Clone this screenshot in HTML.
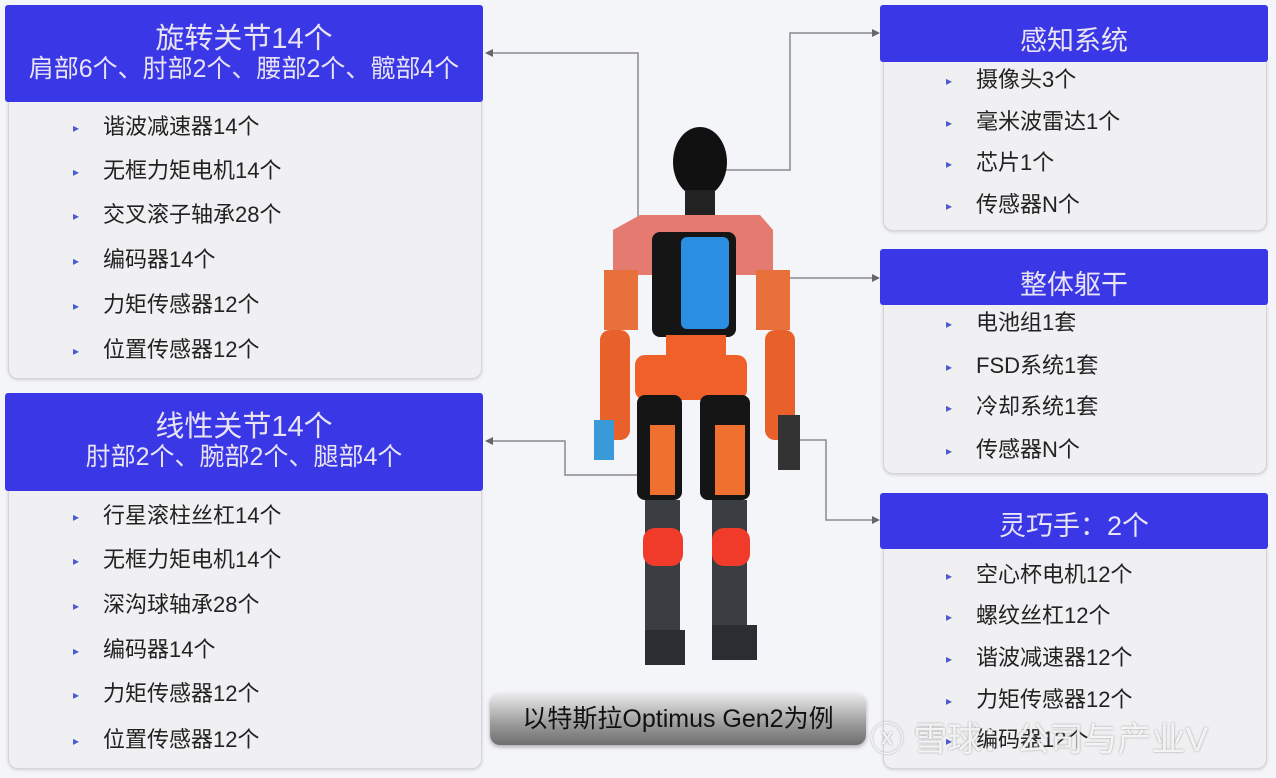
<!DOCTYPE html>
<html><head><meta charset="utf-8"><style>
body{margin:0;width:1276px;height:778px;background:#f4f5f8;position:relative;overflow:hidden;font-family:"Liberation Sans","Noto Sans CJK SC",sans-serif;}
.hd{position:absolute;background:#3a37e6;color:#e8e4f4;text-align:center;border-radius:3px;}
.bd{position:absolute;background:#f0f0f3;border:1px solid #d4d4da;border-radius:0 0 10px 10px;box-shadow:0 1px 3px rgba(0,0,0,.15);}
.it{position:absolute;font-size:22px;color:#222;white-space:nowrap;line-height:26px;}
.it:before{content:"▸";color:#4a5ad0;font-size:12px;position:absolute;left:-30px;top:1px;}
</style></head><body>
<div class="bd" style="left:8px;top:100px;width:472px;height:277px"></div>
<div class="hd" style="left:5px;top:5px;width:478px;height:97px"><div style="font-size:29px;margin-top:18px;line-height:32px">旋转关节14个</div><div style="font-size:25px;line-height:29px">肩部6个、肘部2个、腰部2个、髋部4个</div></div>
<div class="it" style="left:103px;top:114px">谐波减速器14个</div>
<div class="it" style="left:103px;top:158px">无框力矩电机14个</div>
<div class="it" style="left:103px;top:202px">交叉滚子轴承28个</div>
<div class="it" style="left:103px;top:247px">编码器14个</div>
<div class="it" style="left:103px;top:292px">力矩传感器12个</div>
<div class="it" style="left:103px;top:337px">位置传感器12个</div>

<div class="bd" style="left:8px;top:489px;width:472px;height:278px"></div>
<div class="hd" style="left:5px;top:393px;width:478px;height:98px"><div style="font-size:29px;margin-top:18px;line-height:32px">线性关节14个</div><div style="font-size:25px;line-height:29px">肘部2个、腕部2个、腿部4个</div></div>
<div class="it" style="left:103px;top:503px">行星滚柱丝杠14个</div>
<div class="it" style="left:103px;top:547px">无框力矩电机14个</div>
<div class="it" style="left:103px;top:592px">深沟球轴承28个</div>
<div class="it" style="left:103px;top:637px">编码器14个</div>
<div class="it" style="left:103px;top:681px">力矩传感器12个</div>
<div class="it" style="left:103px;top:727px">位置传感器12个</div>

<div class="bd" style="left:883px;top:60px;width:382px;height:169px"></div>
<div class="hd" style="left:880px;top:5px;width:388px;height:57px;font-size:27px;line-height:72px">感知系统</div>
<div class="it" style="left:976px;top:67px">摄像头3个</div>
<div class="it" style="left:976px;top:109px">毫米波雷达1个</div>
<div class="it" style="left:976px;top:150px">芯片1个</div>
<div class="it" style="left:976px;top:192px">传感器N个</div>

<div class="bd" style="left:883px;top:303px;width:382px;height:169px"></div>
<div class="hd" style="left:880px;top:249px;width:388px;height:56px;font-size:27px;line-height:72px">整体躯干</div>
<div class="it" style="left:976px;top:310px">电池组1套</div>
<div class="it" style="left:976px;top:353px">FSD系统1套</div>
<div class="it" style="left:976px;top:394px">冷却系统1套</div>
<div class="it" style="left:976px;top:437px">传感器N个</div>

<div class="bd" style="left:883px;top:547px;width:382px;height:220px"></div>
<div class="hd" style="left:880px;top:493px;width:388px;height:56px;font-size:27px;line-height:66px">灵巧手：2个</div>
<div class="it" style="left:976px;top:562px">空心杯电机12个</div>
<div class="it" style="left:976px;top:603px">螺纹丝杠12个</div>
<div class="it" style="left:976px;top:645px">谐波减速器12个</div>
<div class="it" style="left:976px;top:687px">力矩传感器12个</div>
<div class="it" style="left:976px;top:727px">编码器12个</div>

<div style="position:absolute;left:490px;top:693px;width:376px;height:52px;border-radius:10px;background:linear-gradient(#ececec,#9a9a9a 60%,#6e6e6e);box-shadow:0 2px 4px rgba(0,0,0,.3);font-size:25px;color:#111;text-align:center;line-height:52px">以特斯拉Optimus Gen2为例</div>
<div style="position:absolute;left:870px;top:712px;font-size:34px;color:rgba(255,255,255,.85);text-shadow:0 0 2px #999;white-space:nowrap">ⓧ 雪球：公司与产业V</div>

<svg width="1276" height="778" style="position:absolute;left:0;top:0">
<g fill="none" stroke="#8a8a90" stroke-width="1.5">
<polyline points="638,220 638,53 488,53"/>
<polyline points="703,170 790,170 790,33 876,33"/>
<polyline points="770,278 876,278"/>
<polyline points="637,475 565,475 565,441 488,441"/>
<polyline points="795,440 826,440 826,520 876,520"/>
</g>
<g fill="#666">
<polygon points="485,53 493,49 493,57"/><polygon points="880,33 872,29 872,37"/>
<polygon points="880,278 872,274 872,282"/><polygon points="485,441 493,437 493,445"/>
<polygon points="880,520 872,516 872,524"/>
</g>
<ellipse cx="700" cy="162" rx="27" ry="35" fill="#111"/>
<rect x="685" y="190" width="30" height="30" fill="#222"/>
<path d="M640 215 L760 215 L773 230 L773 275 L613 275 L613 230Z" fill="#e47a70"/>
<rect x="652" y="232" width="84" height="105" rx="8" fill="#151515"/>
<rect x="681" y="237" width="48" height="92" rx="6" fill="#2a8fe0"/>
<rect x="604" y="270" width="34" height="60" fill="#e8703a"/>
<rect x="600" y="330" width="30" height="110" rx="10" fill="#e8602a"/>
<rect x="594" y="420" width="20" height="40" fill="#3a9ad8"/>
<rect x="756" y="270" width="34" height="60" fill="#e8703a"/>
<rect x="765" y="330" width="30" height="110" rx="10" fill="#e8602a"/>
<rect x="778" y="415" width="22" height="55" fill="#333"/>
<rect x="666" y="335" width="60" height="30" fill="#f0602a"/>
<rect x="635" y="355" width="112" height="45" rx="10" fill="#f0602a"/>
<rect x="637" y="395" width="45" height="105" rx="8" fill="#151515"/>
<rect x="650" y="425" width="25" height="70" fill="#f07030"/>
<rect x="700" y="395" width="50" height="105" rx="8" fill="#151515"/>
<rect x="715" y="425" width="30" height="70" fill="#f07030"/>
<rect x="645" y="500" width="35" height="145" fill="#3a3d42"/>
<rect x="712" y="500" width="35" height="145" fill="#3a3d42"/>
<rect x="643" y="528" width="40" height="38" rx="12" fill="#f03a2a"/>
<rect x="712" y="528" width="38" height="38" rx="12" fill="#f03a2a"/>
<rect x="645" y="630" width="40" height="35" fill="#2a2d32"/>
<rect x="712" y="625" width="45" height="35" fill="#2a2d32"/>
</svg>
</body></html>
